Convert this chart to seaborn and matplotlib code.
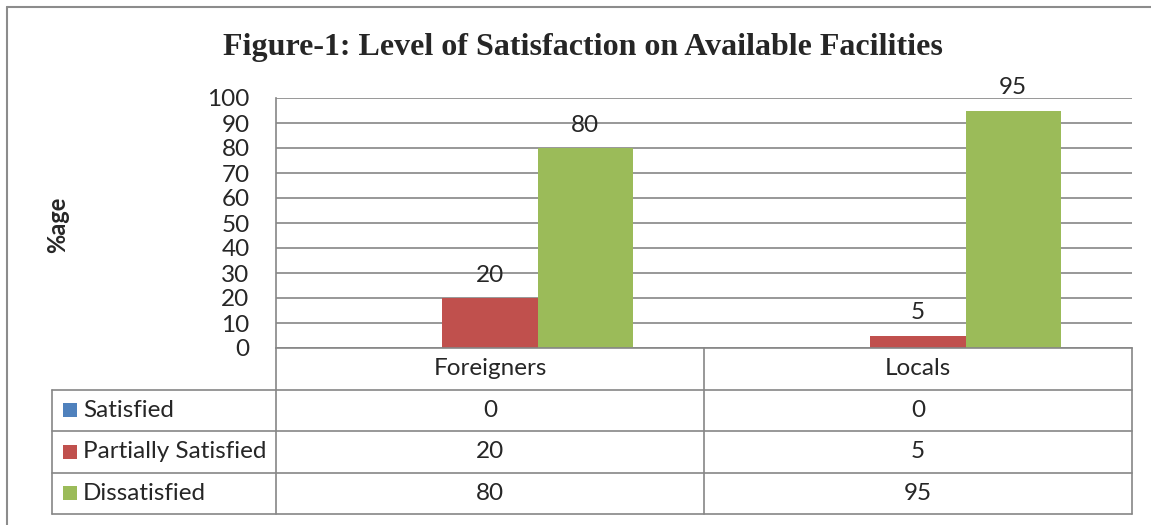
import seaborn as sns
import matplotlib.pyplot as plt
import pandas as pd

# data
categories = ["Foreigners", "Locals"]
series = ["Satisfied", "Partially Satisfied", "Dissatisfied"]
satisfied = [0, 0]
partially_satisfied = [20, 5]
dissatisfied = [80, 95]
colors = ["#4F81BD", "#C0504D", "#9BBB59"]
y_ticks = list(range(0, 101, 10))

title = "Figure-1: Level of Satisfaction on Available Facilities"
y_label = "%age"

values = {"Satisfied": satisfied,
          "Partially Satisfied": partially_satisfied,
          "Dissatisfied": dissatisfied}
df = pd.DataFrame([
    {"category": c, "series": s, "value": values[s][i]}
    for s in series for i, c in enumerate(categories)
])

sns.set_style("white")
plt.rcParams["font.family"] = ["Lato", "DejaVu Sans"]
grid_color = "#868686"
fs = 17.5

W, H = 1151, 525
fig = plt.figure(figsize=(W / 100, H / 100), dpi=100)


def px_axes(x0, y0, x1, y1):
    # axes from pixel box (top-left origin)
    return fig.add_axes([x0 / W, 1 - y1 / H, (x1 - x0) / W, (y1 - y0) / H])


ax = px_axes(276, 98, 1132, 348)
sns.barplot(data=df, x="category", y="value", hue="series", order=categories,
            hue_order=series, palette=colors, width=0.666, saturation=1,
            linewidth=0, legend=False, ax=ax)

ax.set_ylim(0, 100)
ax.set_xlim(-0.5, 1.5)
ax.set_yticks(y_ticks)
ax.tick_params(axis="y", length=0, pad=19, labelsize=fs)
ax.set_xticks([])
ax.set_xlabel("")
ax.set_ylabel("")
ax.yaxis.grid(True, color=grid_color, linewidth=1.2)
ax.set_axisbelow(True)
for side in ["top", "right"]:
    ax.spines[side].set_visible(False)
for side in ["left", "bottom"]:
    ax.spines[side].set_color(grid_color)
    ax.spines[side].set_linewidth(1.2)

for cont, s in zip(ax.containers, series):
    labels = [str(v) if v else "" for v in values[s]]
    ax.bar_label(cont, labels=labels, padding=9, fontsize=fs)

fig.text(583 / W, 1 - 48 / H, title, ha="center", va="center",
         fontsize=23, fontweight="bold", family="Liberation Serif")
fig.text(58 / W, 1 - 225 / H, y_label, ha="center", va="center",
         rotation=90, fontsize=17, fontweight="bold")

# data table below the plot
tax = px_axes(52, 348, 1132, 514)
left = -0.5 - 224 / 428
tax.set_xlim(left, 1.5)
tax.set_ylim(4, 0)
tax.axis("off")
lw = 1.2
for yy in [1, 2, 3, 4]:
    tax.plot([left, 1.5], [yy, yy], color=grid_color, lw=lw, clip_on=False)
for xx in [-0.5, 0.5, 1.5]:
    tax.plot([xx, xx], [0, 4], color=grid_color, lw=lw, clip_on=False)
tax.plot([left, left], [1, 4], color=grid_color, lw=lw, clip_on=False)

for i, c in enumerate(categories):
    tax.text(i, 0.5, c, ha="center", va="center", fontsize=fs)
for r, (s, col) in enumerate(zip(series, colors)):
    yy = r + 1.5
    tax.scatter([left + 17.5 / 428], [yy], marker="s", s=110, color=col,
                linewidths=0, clip_on=False)
    tax.text(left + 31 / 428, yy, s, ha="left", va="center", fontsize=fs)
    for i in range(len(categories)):
        tax.text(i, yy, str(values[s][i]), ha="center", va="center", fontsize=fs)

# outer chart frame (only top and left visible)
fig.add_artist(plt.Line2D([7 / W, 7 / W], [0, 1 - 7 / H], color="#8c8c8c", lw=1.5))
fig.add_artist(plt.Line2D([7 / W, 1], [1 - 7 / H, 1 - 7 / H], color="#8c8c8c", lw=1.5))

fig.savefig("out.png", dpi=100)
